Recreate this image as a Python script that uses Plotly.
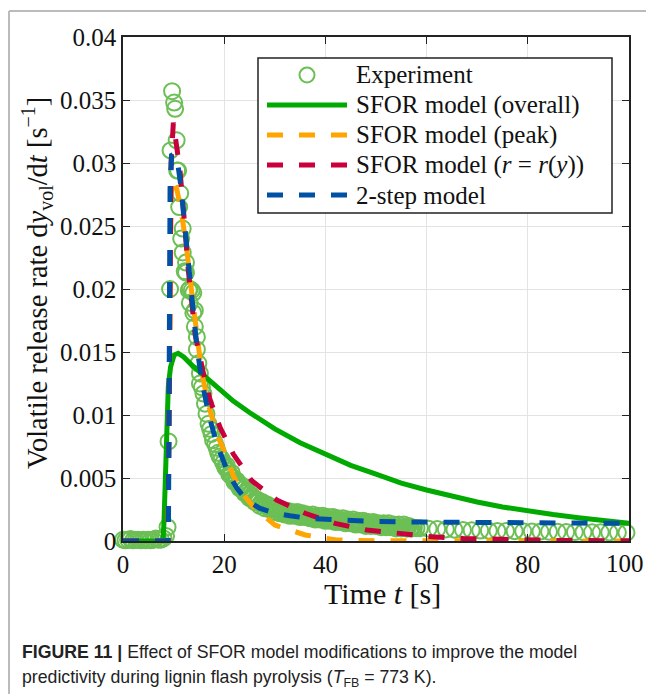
import plotly.graph_objects as go

# ---------------- data ----------------
exp_t = [0.0, 0.5, 1.0, 1.5, 2.0, 2.5, 3.0, 3.5, 4.0, 4.5, 5.0, 5.5, 6.0, 6.5, 7.0, 7.5, 8.0, 8.5,
         8.8, 9.0, 9.3, 9.4, 9.7, 10.1, 10.3, 10.6, 10.7, 10.9, 11.1, 11.3, 11.5, 11.8, 11.8, 12.2, 12.45, 12.45,
         13.0, 13.2, 13.2, 13.6, 13.9, 13.9, 14.2, 14.2, 14.6, 14.6, 14.9, 15.2, 15.2, 15.6, 15.9, 16.2,
         16.5, 16.9, 17.2, 17.5, 17.8, 18.2, 18.5, 18.8, 19.1, 19.5, 19.8, 20.2,
         20.5, 21.0, 21.5, 22.0, 22.5, 23.0, 23.5, 24.0, 24.5, 25.0, 25.5, 26.0, 26.5, 27.0, 27.5,
         28.0, 28.5, 29.0, 29.5, 30.0, 30.5, 31.0, 31.5, 32.0, 32.5, 33.0, 33.5, 34.0, 34.5, 35.0,
         35.5, 36.0, 36.5, 37.0, 37.5, 38.0, 38.5, 39.0, 39.5, 40.0, 40.5, 41.0, 41.5, 42.0, 42.5,
         43.0, 43.5, 44.0, 44.5, 45.0, 45.5, 46.0, 46.5, 47.0, 47.5, 48.0, 48.5, 49.0, 49.5, 50.0,
         50.5, 51.0, 51.5, 52.0, 52.5, 53.0, 53.5, 54.0, 54.5, 55.0, 55.5, 56.0, 56.5, 57.0,
         58.7, 60.4, 62.1, 63.8, 65.5, 67.2, 68.9, 70.6, 72.3, 74.0, 75.7, 77.4, 79.1, 80.8, 82.5,
         84.2, 85.9, 87.6, 89.3, 91.0, 92.7, 94.4, 96.1, 97.8, 99.5]
exp_y = [0.0001, 0.00005, 0.0001, 0.00015, 0.00005, 0.0001, 0.0001, 0.00005, 0.0001, 0.00005,
         0.0001, 0.00005, 0.0001, 0.0002, 0.0001, 0.0001, 0.0002, 0.0004,
         0.0011, 0.0079, 0.0200, 0.0310, 0.0357, 0.0348, 0.0343, 0.0318, 0.0294, 0.0294, 0.0265, 0.0276,
         0.0240, 0.0248, 0.0229, 0.0214, 0.0221, 0.0213,
         0.0199, 0.0200, 0.0189, 0.0199, 0.0197, 0.0181, 0.0183, 0.0170, 0.0162, 0.0152, 0.0141,
         0.0133, 0.0125, 0.0122, 0.0117, 0.0109,
         0.0101, 0.0093, 0.0089, 0.0085, 0.0080, 0.0077, 0.0074, 0.0070, 0.0067, 0.0065, 0.0062, 0.0059,
         0.0060, 0.0053, 0.0054, 0.0047, 0.0048, 0.0042, 0.0044, 0.0038, 0.0040, 0.0034, 0.0036,
         0.0031, 0.0033, 0.0028, 0.0031, 0.0026, 0.0029, 0.0025, 0.0027, 0.0023, 0.0026, 0.0022,
         0.0025, 0.0021, 0.0024, 0.0020, 0.0023, 0.0020, 0.0023, 0.0019, 0.0022, 0.0019, 0.0021,
         0.0018, 0.0021, 0.0017, 0.0020, 0.0017, 0.0020, 0.0016, 0.0019, 0.0016, 0.0019, 0.0015,
         0.0018, 0.0015, 0.0018, 0.0014, 0.0017, 0.0014, 0.0017, 0.0013, 0.0016, 0.0013, 0.0016,
         0.0012, 0.0015, 0.0012, 0.0015, 0.0012, 0.0014, 0.0011, 0.0014, 0.0011, 0.0014, 0.0011,
         0.0013, 0.0010, 0.0013, 0.0010, 0.0013, 0.0010, 0.0012, 0.0010,
         0.00102, 0.00098, 0.00095, 0.00092, 0.00090, 0.00088, 0.00085, 0.00083, 0.00082, 0.00080,
         0.00079, 0.00078, 0.00077, 0.00076, 0.00075, 0.00074, 0.00073, 0.00072, 0.00071, 0.00070,
         0.00069, 0.00069, 0.00068, 0.00067, 0.00066]

# additional experimental samples inside the dense band (20-58 s)
exp_band_t = [20.25, 20.75, 21.25, 21.75, 22.25, 22.75, 23.25, 23.75, 24.25, 24.75, 25.25, 25.75,
              26.25, 26.75, 27.25, 27.75, 28.25, 28.75, 29.25, 29.75, 30.25, 30.75, 31.25, 31.75,
              32.25, 32.75, 33.25, 33.75, 34.25, 34.75, 35.25, 35.75, 36.25, 36.75, 37.25, 37.75,
              38.25, 38.75, 39.25, 39.75, 40.25, 40.75, 41.25, 41.75, 42.25, 42.75, 43.25, 43.75,
              44.25, 44.75, 45.25, 45.75, 46.25, 46.75, 47.25, 47.75, 48.25, 48.75, 49.25, 49.75,
              50.25, 50.75, 51.25, 51.75, 52.25, 52.75, 53.25, 53.75, 54.25, 54.75, 55.25, 55.75,
              56.25, 56.75, 57.5, 58.0]
exp_band_y = [0.0058, 0.0056, 0.0052, 0.0050, 0.0047, 0.0045, 0.0043, 0.0041, 0.0039, 0.0037,
              0.0035, 0.0034, 0.0032, 0.0031, 0.0030, 0.0029, 0.0028, 0.0027, 0.0026, 0.0025,
              0.0025, 0.0024, 0.0024, 0.0023, 0.0023, 0.0022, 0.0022, 0.0021, 0.0021, 0.0021,
              0.0020, 0.0020, 0.0020, 0.0019, 0.0019, 0.0019, 0.0018, 0.0018, 0.0018, 0.0018,
              0.0017, 0.0017, 0.0017, 0.0017, 0.0016, 0.0016, 0.0016, 0.0016, 0.0015, 0.0015,
              0.0015, 0.0015, 0.0014, 0.0014, 0.0014, 0.0014, 0.0013, 0.0013, 0.0013, 0.0013,
              0.0013, 0.0012, 0.0012, 0.0012, 0.0012, 0.0012, 0.0011, 0.0011, 0.0011, 0.0011,
              0.0011, 0.0011, 0.0010, 0.0010, 0.00105, 0.00102]

sfor_overall_t = [0, 7.9, 8.1, 8.3, 8.6, 8.95, 9.4, 10.1, 10.9, 12.0, 13.5, 15.2, 18.0, 21.8, 25,
                  30, 35, 40, 45, 50, 55, 60, 65, 70, 75, 80, 85, 90, 95, 100]
sfor_overall_y = [0, 0, 0.0015, 0.0043, 0.0085, 0.01225, 0.0138, 0.01476, 0.0149, 0.0146, 0.0140,
                  0.0134, 0.0124, 0.0111, 0.0102, 0.0089, 0.0078, 0.0069, 0.0060, 0.0053, 0.0046,
                  0.00405, 0.00355, 0.0031, 0.0027, 0.00235, 0.0021, 0.00185, 0.0016, 0.0014]

sfor_peak_t = [0, 8.9, 9.0, 9.2, 9.5, 10.0, 10.6, 11.5, 12.5, 13.5, 14.6, 15.55, 16.9, 18.5, 19.5,
               20.5, 21.8, 23.5, 25.8, 30, 36, 42.2, 50, 100]
sfor_peak_y = [0, 0, 0.005, 0.018, 0.0275, 0.0288, 0.0280, 0.0262, 0.0235, 0.0200, 0.0160, 0.0134,
               0.0108, 0.0085, 0.0076, 0.0066, 0.0052, 0.0038, 0.0027, 0.00127, 0.00048, 0.00008,
               0.00002, 0]

sfor_ry_t = [0, 8.9, 9.0, 9.2, 9.5, 9.95, 10.5, 11.26, 11.9, 12.25, 12.9, 13.6, 14.2, 15.9, 17.2,
             19.2, 21.8, 25.4, 30.4, 36, 41.9, 48.2, 54.7, 61, 67.3, 75, 85, 100]
sfor_ry_y = [0, 0, 0.005, 0.020, 0.030, 0.0332, 0.0318, 0.0294, 0.0265, 0.0244, 0.0215, 0.0189,
             0.0165, 0.0133, 0.0112, 0.0090, 0.0069, 0.0048, 0.00325, 0.0022, 0.0014, 0.00087,
             0.0006, 0.00034, 0.0002, 0.0001, 0.00005, 0.00002]

two_step_t = [0, 8.9, 9.0, 9.15, 9.3, 9.6, 10.2, 10.8, 11.5, 12.0, 12.7, 13.2, 13.9, 14.6, 15.55,
              16.9, 18.5, 20.8, 22.5, 24.4, 27, 30, 33, 36.6, 42.9, 50, 60, 70, 80, 90, 100]
two_step_y = [0, 0, 0.002, 0.015, 0.028, 0.0306, 0.0307, 0.0300, 0.0280, 0.0258, 0.0228, 0.0205,
              0.0178, 0.0154, 0.0128, 0.0101, 0.00775, 0.00537, 0.0042, 0.00325, 0.0026, 0.0022,
              0.0020, 0.0018, 0.00167, 0.00155, 0.0015, 0.00148, 0.00145, 0.00142, 0.0014]

series_names = ["Experiment", "SFOR model (overall)", "SFOR model (peak)",
                "SFOR model (<i>r</i> = <i>r</i>(<i>y</i>))", "2-step model"]
series_colors = ["#6cbf55", "#00aa00", "#ffa500", "#c8003c", "#0050a5"]

x_ticks = [0, 20, 40, 60, 80, 100]
y_ticks = [0, 0.005, 0.01, 0.015, 0.02, 0.025, 0.03, 0.035, 0.04]
y_tick_labels = ["0", "0.005", "0.01", "0.015", "0.02", "0.025", "0.03", "0.035", "0.04"]

# ---------------- figure ----------------
W, H = 647, 695
L, R, T, B = 123, 629, 37, 541
serif = "Liberation Serif, Times New Roman, serif"
sans_narrow = "Liberation Sans Narrow, Arial Narrow, Liberation Sans, sans-serif"
dash = "16px,16px"
tick_font = dict(family=serif, size=25, color="#111")
exp_marker = dict(symbol="circle-open", size=16, color=series_colors[0],
                  line=dict(width=2, color=series_colors[0]))

fig = go.Figure()
fig.add_trace(go.Scatter(x=exp_t + exp_band_t, y=exp_y + exp_band_y, mode="markers",
                         name=series_names[0], marker=exp_marker, cliponaxis=False))
fig.add_trace(go.Scatter(x=sfor_overall_t, y=sfor_overall_y, mode="lines", name=series_names[1],
                         line=dict(color=series_colors[1], width=5)))
fig.add_trace(go.Scatter(x=sfor_peak_t, y=sfor_peak_y, mode="lines", name=series_names[2],
                         line=dict(color=series_colors[2], width=5, dash=dash)))
fig.add_trace(go.Scatter(x=sfor_ry_t, y=sfor_ry_y, mode="lines", name=series_names[3],
                         line=dict(color=series_colors[3], width=5, dash=dash)))
fig.add_trace(go.Scatter(x=two_step_t, y=two_step_y, mode="lines", name=series_names[4],
                         line=dict(color=series_colors[4], width=5, dash=dash)))

axis_common = dict(showgrid=True, gridcolor="#e3e3e3", gridwidth=1,
                   showline=True, linecolor="#222", linewidth=1.5, mirror="allticks",
                   ticks="inside", ticklen=7, tickcolor="#222", tickwidth=1.3,
                   zeroline=False, tickfont=tick_font)

# the last x label ("100") sits against the page edge; it is drawn as an
# annotation anchored at x=100 so it stays inside the page
fig.update_xaxes(range=[0, 100], tickvals=x_ticks,
                 ticktext=[str(v) if v != x_ticks[-1] else "" for v in x_ticks], **axis_common)
fig.update_yaxes(range=[0, 0.04], tickvals=y_ticks, ticktext=y_tick_labels, **axis_common)


def px_x(px):
    return (px - L) / (R - L)


def px_y(py):
    return (B - py) / (B - T)


annotations = [
    dict(text=str(x_ticks[-1]), x=x_ticks[-1], xref="x", y=px_y(563), yref="paper",
         xanchor="right", yanchor="middle", xshift=17, showarrow=False, font=tick_font),
    dict(text="Volatile release rate d<i>y</i><sub>vol</sub>/d<i>t</i> [s<sup>\u22121</sup>]",
         x=px_x(37), y=px_y(283), xref="paper", yref="paper",
         xanchor="center", yanchor="middle", textangle=-90, showarrow=False,
         font=dict(family=serif, size=28.5, color="#111")),
    dict(text="Time <i>t</i> [s]",
         x=px_x(382), y=px_y(593), xref="paper", yref="paper",
         xanchor="center", yanchor="middle", showarrow=False,
         font=dict(family=serif, size=30, color="#111")),
    dict(text="<b>FIGURE 11 |</b> Effect of SFOR model modifications to improve the model",
         x=px_x(20), y=px_y(652), xref="paper", yref="paper",
         xanchor="left", yanchor="middle", showarrow=False,
         font=dict(family=sans_narrow, size=17.7, color="#222")),
    dict(text="predictivity during lignin flash pyrolysis (<i>T</i><sub>FB</sub> = 773 K).",
         x=px_x(20), y=px_y(678), xref="paper", yref="paper",
         xanchor="left", yanchor="middle", showarrow=False,
         font=dict(family=sans_narrow, size=17.7, color="#222")),
]

shapes = [
    # outer figure frame (top and left)
    dict(type="line", xref="paper", yref="paper", layer="above",
         x0=px_x(9), x1=px_x(646), y0=px_y(11), y1=px_y(11),
         line=dict(color="#bbbbbb", width=2)),
    dict(type="line", xref="paper", yref="paper", layer="above",
         x0=px_x(9), x1=px_x(9), y0=px_y(11), y1=px_y(694),
         line=dict(color="#bbbbbb", width=2)),
    # legend box
    dict(type="rect", xref="paper", yref="paper", layer="above",
         x0=px_x(258), x1=px_x(612), y0=px_y(213), y1=px_y(58),
         fillcolor="white", line=dict(color="#222", width=1.5)),
]

# legend entries
row_y = [75, 105, 135, 165, 195]
sym_x0, sym_x1, text_x = 267, 347, 354
for i, (name, color) in enumerate(zip(series_names, series_colors)):
    yy = px_y(row_y[i])
    if i == 0:
        shapes.append(dict(type="circle", xref="paper", yref="paper", layer="above",
                           x0=px_x(299.5), x1=px_x(314.5), y0=px_y(row_y[i] + 7.5),
                           y1=px_y(row_y[i] - 7.5),
                           line=dict(color=color, width=2)))
    else:
        shapes.append(dict(type="line", xref="paper", yref="paper", layer="above",
                           x0=px_x(sym_x0), x1=px_x(sym_x1), y0=yy, y1=yy,
                           line=dict(color=color, width=5,
                                     dash=None if i == 1 else dash)))
    annotations.append(dict(text=name, x=px_x(text_x), y=yy, xref="paper", yref="paper",
                            xanchor="left", yanchor="middle", showarrow=False,
                            font=dict(family=serif, size=25, color="#111")))

fig.update_layout(
    width=W, height=H, autosize=False,
    margin=dict(l=L, r=W - R, t=T, b=H - B),
    paper_bgcolor="white", plot_bgcolor="white",
    showlegend=False,
    annotations=annotations,
    shapes=shapes,
)

fig.write_html(
    "out.html",
    config={"responsive": False, "displayModeBar": False},
    post_script="document.body.style.margin='0';",
)
